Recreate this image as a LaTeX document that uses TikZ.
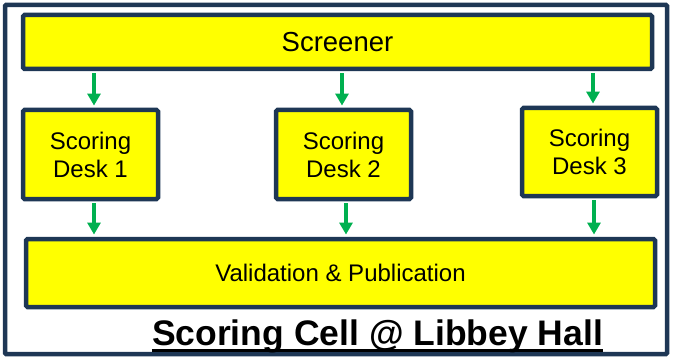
\documentclass[tikz,border=0pt]{standalone}
\usepackage{fontspec}
\setmainfont{Liberation Sans}
\usetikzlibrary{arrows.meta,calc}
\definecolor{navy}{RGB}{30,55,85}
\definecolor{agreen}{RGB}{0,176,80}
\definecolor{ybox}{RGB}{255,255,0}
\tikzset{
  box/.style={draw=navy, line width=4.5pt, fill=ybox, rounded corners=1.5pt, inner sep=0pt, align=center, text=black},
  arr/.style={draw=agreen, line width=4pt, -{Triangle[width=13pt,length=12pt]}, shorten >=2.2pt, shorten <=2.2pt},
}
\begin{document}
\begin{tikzpicture}[x=1pt,y=-1pt]
\useasboundingbox (0,0) rectangle (673,361);
\fill[white] (0,0) rectangle (673,361);
\draw[navy, line width=4.5pt, rounded corners=1pt] (5,5) rectangle (667,354);
\node[box, minimum width=629pt, minimum height=54pt, font=\fontsize{27.5}{30}\selectfont] (scr) at (337.5,42) {Screener};
\node[box, minimum width=135pt, minimum height=89pt, font=\fontsize{24}{28}\selectfont] (d1) at (90.5,154.5) {Scoring\\Desk 1};
\node[box, minimum width=135pt, minimum height=89pt, font=\fontsize{24}{28}\selectfont] (d2) at (343.5,154.5) {Scoring\\Desk 2};
\node[box, minimum width=135pt, minimum height=88pt, font=\fontsize{24}{28}\selectfont] (d3) at (589.5,152) {Scoring\\Desk 3};
\node[box, minimum width=629pt, minimum height=68pt, font=\fontsize{24}{28}\selectfont] (val) at (340.5,273) {Validation \& Publication};
\node[anchor=base, inner sep=0pt, font=\fontsize{35.5}{38}\selectfont\bfseries] (title) at (377.5,345) {Scoring Cell @ Libbey Hall};
\draw[black, line width=2.6pt] ($(title.base west)+(0,5.5)$) -- ($(title.base east)+(0,5.5)$);
\coordinate (a1) at ($(d1.north)+(3.5,0)$);
\coordinate (a2) at ($(d2.north)+(-1.5,0)$);
\coordinate (a3) at ($(d3.north)+(3.5,0)$);
\coordinate (b1) at ($(d1.south)+(3.5,0)$);
\coordinate (b2) at ($(d2.south)+(2.5,0)$);
\coordinate (b3) at ($(d3.south)+(4.5,0)$);
\draw[arr] (scr.south -| a1) -- (a1);
\draw[arr] (scr.south -| a2) -- (a2);
\draw[arr] (scr.south -| a3) -- (a3);
\draw[arr] (b1) -- (b1 |- val.north);
\draw[arr] (b2) -- (b2 |- val.north);
\draw[arr] (b3) -- (b3 |- val.north);
\end{tikzpicture}
\end{document}
